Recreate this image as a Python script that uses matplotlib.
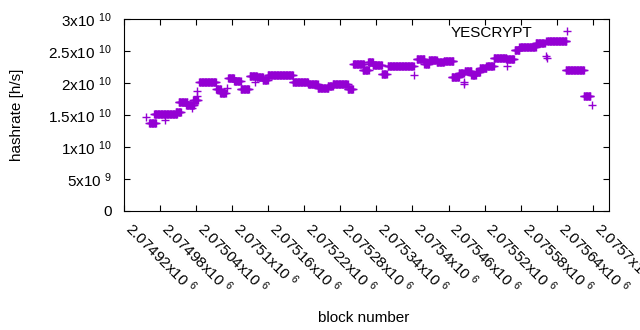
import numpy as np
import matplotlib
matplotlib.use("Agg")
import matplotlib.pyplot as plt

plt.rcParams["font.family"] = ["Liberation Sans", "DejaVu Sans"]
plt.rcParams["mathtext.fontset"] = "custom"
plt.rcParams["mathtext.rm"] = "Liberation Sans"
plt.rcParams["mathtext.it"] = "Liberation Sans"
plt.rcParams["mathtext.bf"] = "Liberation Sans"

# runs of constant estimated hashrate: first block, last block, rate (x1e10 h/s)
run_first = [2074957, 2074962, 2074970, 2074988, 2075006, 2075011, 2075023, 2075033,
             2075035, 2075041, 2075042, 2075045, 2075073, 2075080, 2075091, 2075093,
             2075103, 2075114, 2075129, 2075138, 2075141, 2075151, 2075159, 2075201,
             2075226, 2075242, 2075259, 2075267, 2075292, 2075301, 2075317, 2075326,
             2075334, 2075349, 2075359, 2075402, 2075407, 2075420, 2075427, 2075440,
             2075452, 2075465, 2075477, 2075485, 2075486, 2075487, 2075498, 2075505,
             2075512, 2075523, 2075535, 2075558, 2075556, 2075570, 2075578, 2075605,
             2075623, 2075624, 2075623, 2075655, 2075685, 2075698]
run_last = [2074957, 2074973, 2075008, 2074988, 2075015, 2075025, 2075036, 2075033,
            2075043, 2075041, 2075042, 2075073, 2075081, 2075089, 2075091, 2075103,
            2075114, 2075128, 2075141, 2075138, 2075151, 2075159, 2075201, 2075226,
            2075242, 2075260, 2075267, 2075292, 2075301, 2075319, 2075327, 2075334,
            2075349, 2075357, 2075402, 2075402, 2075420, 2075427, 2075440, 2075452,
            2075468, 2075477, 2075485, 2075485, 2075486, 2075498, 2075505, 2075512,
            2075523, 2075535, 2075556, 2075558, 2075569, 2075578, 2075605, 2075620,
            2075623, 2075624, 2075656, 2075685, 2075696, 2075698]
run_rate = [1.47, 1.375, 1.51, 1.42, 1.55, 1.70, 1.66, 1.61,
            1.73, 1.80, 1.88, 2.02, 1.91, 1.84, 1.92, 2.08,
            2.03, 1.91, 2.11, 2.02, 2.09, 2.05, 2.13, 2.02,
            1.98, 1.92, 1.95, 1.98, 1.91, 2.30, 2.20, 2.33,
            2.28, 2.14, 2.27, 2.12, 2.38, 2.30, 2.36, 2.33,
            2.34, 2.10, 2.15, 2.02, 1.98, 2.18, 2.13, 2.17,
            2.23, 2.26, 2.39, 2.27, 2.37, 2.51, 2.56, 2.63,
            2.42, 2.39, 2.66, 2.20, 1.80, 1.65]

xtick_values = [2074920 + 60 * k for k in range(14)]
xtick_labels = ["2.07492x10 $^{6}$", "2.07498x10 $^{6}$", "2.07504x10 $^{6}$", "2.0751x10 $^{6}$",
                "2.07516x10 $^{6}$", "2.07522x10 $^{6}$", "2.07528x10 $^{6}$", "2.07534x10 $^{6}$",
                "2.0754x10 $^{6}$", "2.07546x10 $^{6}$", "2.07552x10 $^{6}$", "2.07558x10 $^{6}$",
                "2.07564x10 $^{6}$", "2.0757x10 $^{6}$"]
ytick_values = [0, 5e9, 1e10, 1.5e10, 2e10, 2.5e10, 3e10]
ytick_labels = ["0", "5x10 $^{9}$", "1x10 $^{10}$", "1.5x10 $^{10}$", "2x10 $^{10}$",
                "2.5x10 $^{10}$", "3x10 $^{10}$"]

blocks = np.concatenate([np.arange(a, b + 1) for a, b in zip(run_first, run_last)])
rates = np.concatenate([np.full(b - a + 1, r) for a, b, r in zip(run_first, run_last, run_rate)]) * 1e10

fs = 11
fig = plt.figure(figsize=(6.4, 3.3), dpi=100)
ax = fig.add_axes([124 / 640, 1 - 211 / 330, 485 / 640, 192 / 330])

ax.plot(blocks, rates, linestyle="none", marker="+", markersize=5.2,
        markeredgewidth=1.0, color="#9400d3", label="YESCRYPT")

ax.set_xlim(2074920, 2075727)
ax.set_ylim(0, 3e10)
ax.set_xticks(xtick_values)
ax.set_xticklabels(xtick_labels, rotation=-45, ha="left", va="baseline",
                   rotation_mode="anchor", fontsize=fs)
ax.set_yticks(ytick_values)
ax.set_yticklabels(ytick_labels, fontsize=fs)
ax.tick_params(direction="in", length=4.5, width=0.8, top=True, right=True)
ax.tick_params(axis="x", pad=13.5)
ax.tick_params(axis="y", pad=9)
for s in ax.spines.values():
    s.set_linewidth(0.8)

ax.set_xlabel("block number", fontsize=fs)
ax.set_ylabel("hashrate [h/s]", fontsize=fs)
ax.xaxis.set_label_coords(0.495, -0.521)
ax.yaxis.set_label_coords(-0.207, 0.5)

ax.legend(loc="upper right", bbox_to_anchor=(0.944, 0.965), frameon=False,
          markerfirst=False, fontsize=fs, handlelength=2, handletextpad=1.22,
          borderpad=0, borderaxespad=0)

fig.savefig("out.png", dpi=100)
